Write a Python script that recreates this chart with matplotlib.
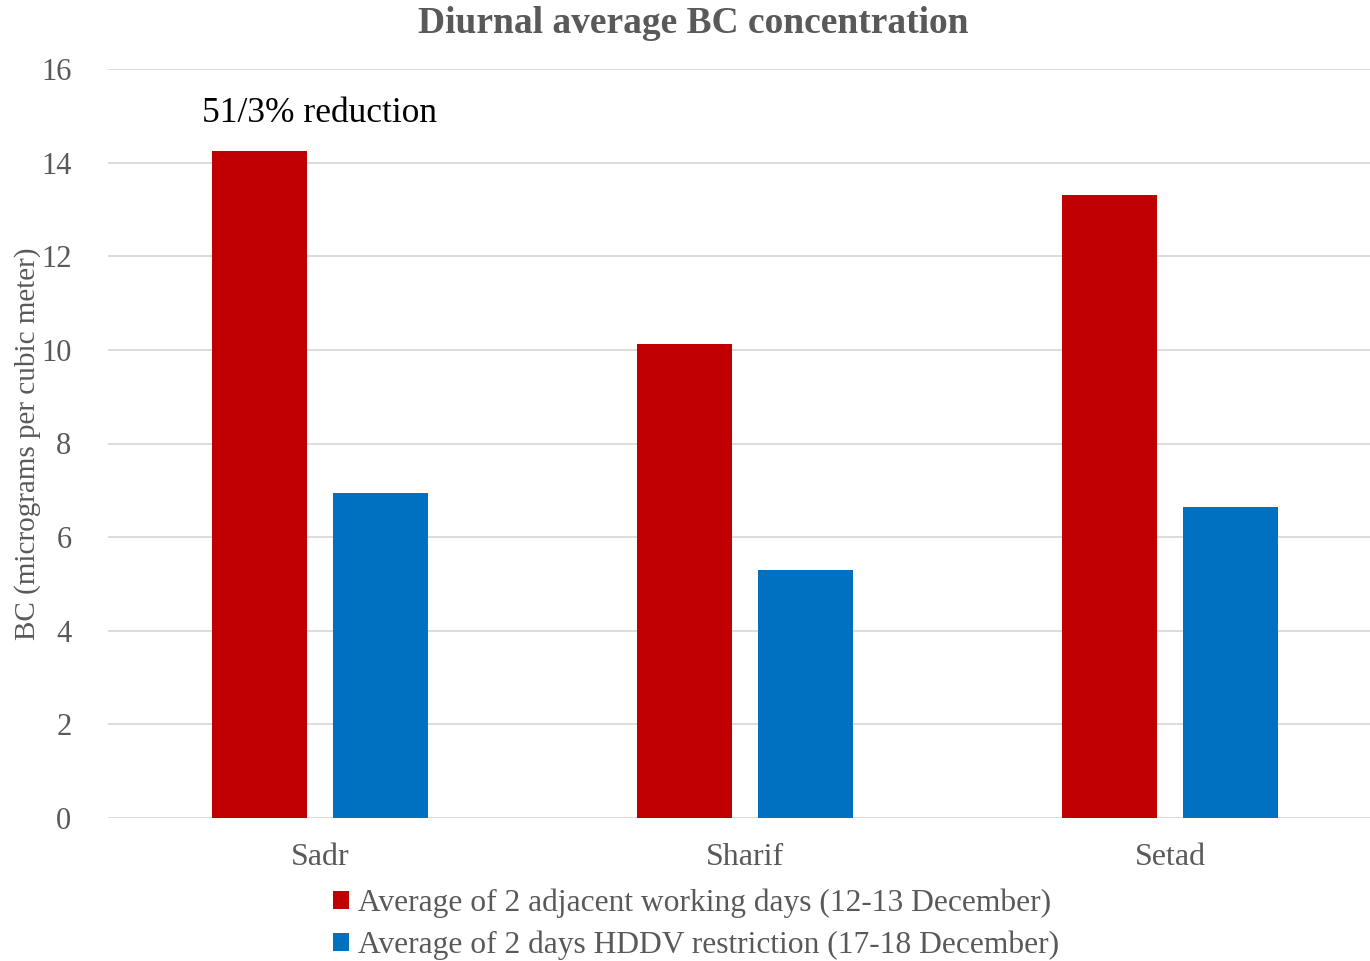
import numpy as np
import matplotlib
matplotlib.use("Agg")
import matplotlib.pyplot as plt

# diurnal average BC at three stations
stations = ["Sadr", "Sharif", "Setad"]
working_days = [14.25, 10.13, 13.31]
restriction_days = [6.94, 5.30, 6.65]
labels = ["Average of 2 adjacent working days (12-13 December)",
          "Average of 2 days HDDV restriction (17-18 December)"]

plt.rcParams['font.family'] = ['Liberation Serif', 'DejaVu Serif']
grey = '#595959'

fig = plt.figure(figsize=(13.7, 9.61), dpi=100)
ax = fig.add_axes([107.5/1370, 1-818/961, 1275/1370, 749/961])

x = np.arange(len(stations))
w = 0.2235
off = 0.142
ax.bar(x - off, working_days, w, color='#C00000', label=labels[0], zorder=3)
ax.bar(x + off, restriction_days, w, color='#0070C0', label=labels[1], zorder=3)

ax.set_xlim(-0.5, 2.5)
ax.set_ylim(0, 16)
ax.set_yticks(range(0, 17, 2))
ax.set_xticks(x)
ax.set_xticklabels(stations)
ax.tick_params(axis='both', length=0, colors=grey)
ax.tick_params(axis='y', pad=26, labelsize=22)
ax.tick_params(axis='x', pad=18, labelsize=23)
ax.grid(axis='y', color='#D9D9D9', linewidth=1.3, zorder=0)
for s in ax.spines.values():
    s.set_visible(False)

ax.set_ylabel("BC (micrograms per cubic meter)", color=grey, fontsize=21, labelpad=0)
ax.text(0, 15.05, "51/3% reduction", ha='center', va='center', fontsize=25.5, color='black')

fig.text(0.506, 0.976, "Diurnal average BC concentration", ha='center', va='center',
         fontsize=27, fontweight='bold', color=grey)

leg = fig.legend(loc='upper center', bbox_to_anchor=(0.508, 0.082), ncol=1, frameon=False,
                 fontsize=22.7, handlelength=0.5, handleheight=0.5, handletextpad=0.3,
                 labelspacing=0.4, labelcolor=grey, borderaxespad=0, borderpad=0.2)

fig.savefig("out.png", dpi=100)
